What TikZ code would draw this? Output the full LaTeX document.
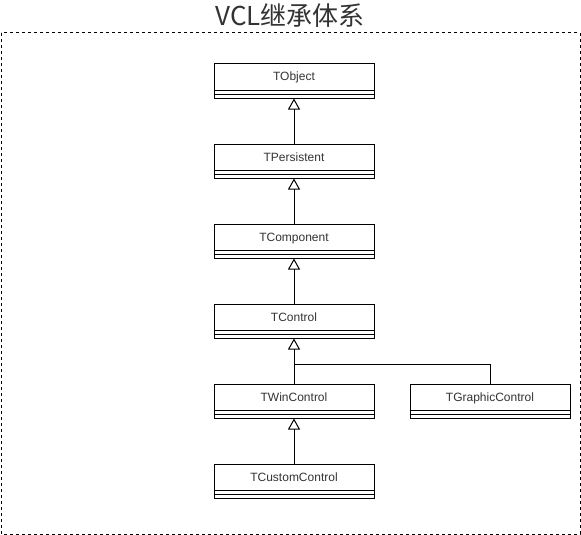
\documentclass[tikz,border=0pt]{standalone}
\usepackage{fontspec}
\setmainfont{Liberation Sans}
\newfontfamily\cjk{Noto Sans CJK SC}
\usetikzlibrary{arrows.meta}
\definecolor{txt}{RGB}{51,51,51}
\tikzset{
  cls/.style={draw=black, line width=1pt, minimum width=160pt, minimum height=34pt,
    inner sep=0pt, text height=9pt, text depth=9pt, font=\fontsize{12}{14}\selectfont, text=txt},
  inh/.style={draw=black, line width=1pt, -{Triangle[open, width=12pt, length=11pt, line width=1pt]}},
  conn/.style={draw=black, line width=1pt},
}
\newcommand{\seps}[1]{%
  \draw[line width=1pt] ([yshift=8pt]#1.south west) -- ([yshift=8pt]#1.south east);
  \draw[line width=1pt] ([yshift=4pt]#1.south west) -- ([yshift=4pt]#1.south east);}
\begin{document}
\begin{tikzpicture}[x=1pt, y=-1pt]
\useasboundingbox (0,0) rectangle (581,535);
\draw[line width=1pt, dash pattern=on 3pt off 3pt] (1,33) rectangle (580,534);
\node[font=\cjk\fontsize{26}{30}\selectfont, text=txt] (title) at (290,16) {VCL继承体系};
\node[cls] (obj) at (294,81) {TObject};
\node[cls] (per) at (294,161) {TPersistent};
\node[cls] (com) at (294,241) {TComponent};
\node[cls] (ctl) at (294,321) {TControl};
\node[cls] (win) at (294,401) {TWinControl};
\node[cls] (gra) at (490,401) {TGraphicControl};
\node[cls] (cus) at (294,481) {TCustomControl};
\seps{obj}\seps{per}\seps{com}\seps{ctl}\seps{win}\seps{gra}\seps{cus}
\draw[inh] (per.north) -- (obj.south);
\draw[inh] (com.north) -- (per.south);
\draw[inh] (ctl.north) -- (com.south);
\draw[inh] (win.north) -- (ctl.south);
\draw[inh] (cus.north) -- (win.south);
\coordinate (j) at (294,364);
\draw[conn] (gra.north) |- (j);
\end{tikzpicture}
\end{document}
